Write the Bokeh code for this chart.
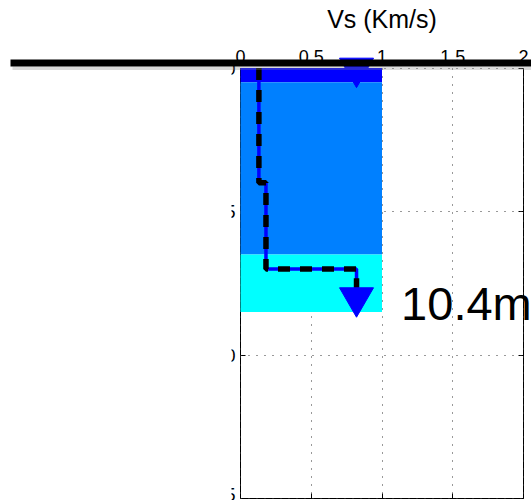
from bokeh.plotting import figure
from bokeh.models import Range1d, FixedTicker, LinearAxis, Label
from bokeh.embed import file_html
from bokeh.resources import INLINE

# ---- data ----
layer_top = [0.0, 0.5, 6.5]          # depth of layer tops (m)
layer_bottom = [0.5, 6.5, 8.5]       # depth of layer bottoms (m)
layer_vs = [1.0, 1.0, 1.0]           # bar extent along Vs axis
layer_colors = ["#0000FF", "#0080FF", "#00FFFF"]

profile_vs = [0.13, 0.13, 0.18, 0.18, 0.82, 0.82]
profile_depth = [0.0, 4.0, 4.0, 7.0, 7.0, 7.8]

marker_vs = [0.82, 0.82]
marker_depth = [0.0, 8.0]

x_ticks = [0, 0.5, 1, 1.5, 2]
x_tick_labels = ["0", "0.5", "1", "1.5", "2"]
y_ticks = [0, 5, 10, 15]
y_tick_labels = ["0", "5", "10", "15"]

x_label = "Vs (Km/s)"
depth_text = "10.4m"
depth_text_vs = 1.135
depth_text_depth = 8.22

FONT = "Liberation Sans"

# box: x 0..2 -> px 240..523 ; depth 0..15 -> px 67.5..498 (canvas 531x500)
PX_X = 141.5
PX_Y = 28.7
X0, Y0 = 240.0, 67.5
W, H = 531, 500
x_rng = Range1d(-X0 / PX_X, (W - X0) / PX_X)
y_rng = Range1d((H - Y0) / PX_Y, -Y0 / PX_Y)

p = figure(width=W, height=H, output_backend="svg", toolbar_location=None,
           x_range=x_rng, y_range=y_rng, x_axis_location="above",
           min_border=0)
p.background_fill_color = "white"
p.border_fill_color = "white"
p.outline_line_color = None

xa = p.xaxis[0]
ya = p.yaxis[0]
xa.fixed_location = 0
xa.bounds = (x_ticks[0], x_ticks[-1])
xa.ticker = FixedTicker(ticks=x_ticks)
xa.major_label_overrides = {t: l for t, l in zip(x_ticks, x_tick_labels)}
ya.fixed_location = 0
ya.bounds = (y_ticks[0], y_ticks[-1])
ya.ticker = FixedTicker(ticks=y_ticks)
ya.major_label_overrides = {t: l for t, l in zip(y_ticks, y_tick_labels)}

ra = LinearAxis(fixed_location=x_ticks[-1], bounds=(y_ticks[0], y_ticks[-1]),
                ticker=FixedTicker(ticks=y_ticks))
ba = LinearAxis(fixed_location=y_ticks[-1], bounds=(x_ticks[0], x_ticks[-1]),
                ticker=FixedTicker(ticks=x_ticks))
p.add_layout(ra, "right")
p.add_layout(ba, "below")

for ax in (xa, ya, ra, ba):
    ax.level = "underlay"
    ax.major_tick_in = 5
    ax.major_tick_out = 0
    ax.minor_tick_line_color = None
    ax.axis_line_color = "black"
    ax.major_tick_line_color = "black"
    ax.major_label_text_font = FONT
    ax.major_label_text_font_size = "18px"
    ax.major_label_text_color = "black"
    ax.major_label_standoff = 5

xa.axis_line_color = None
xa.major_tick_line_color = None
ra.major_label_text_color = None
ba.major_label_text_color = None

xa.axis_label = x_label
xa.axis_label_text_font = FONT
xa.axis_label_text_font_size = "25px"
xa.axis_label_text_font_style = "normal"
xa.axis_label_text_color = "black"
xa.axis_label_standoff = 15

p.xgrid[0].cross_bounds = (y_ticks[0], y_ticks[-1])
p.ygrid[0].cross_bounds = (x_ticks[0], x_ticks[-1])
for g in (p.xgrid[0], p.ygrid[0]):
    g.grid_line_color = "#333333"
    g.grid_line_dash = "1 7"
    g.grid_line_width = 1
    g.grid_line_alpha = 1

# layers
p.quad(left=0, right=layer_vs, top=layer_top, bottom=layer_bottom,
       fill_color=layer_colors, line_color=None)

# Vs profile
p.line(profile_vs, profile_depth, line_color="#0000FF", line_width=3.5)
p.line(profile_vs, profile_depth, line_color="black", line_width=5.5,
       line_dash="12 10")

p.scatter(marker_vs, marker_depth, marker="inverted_triangle", size=34,
          fill_color="#0000FF", line_color="#0000FF")

# white mask over the left part (the reference is cropped there)
p.quad(left=x_rng.start, right=-9 / PX_X, top=-8 / PX_Y, bottom=y_rng.start,
       fill_color="white", line_color=None)
# ground-surface line and its soft shadow
p.quad(left=-228 / PX_X, right=x_rng.end, top=-1.5 / PX_Y, bottom=2 / PX_Y,
       fill_color="#888888", fill_alpha=0.3, line_color=None)
p.quad(left=-230 / PX_X, right=x_rng.end, top=-8.5 / PX_Y, bottom=-1.5 / PX_Y,
       fill_color="black", line_color=None)

p.add_layout(Label(x=depth_text_vs, y=depth_text_depth, text=depth_text,
                   text_font=FONT, text_font_size="47px", text_color="black",
                   text_align="left", text_baseline="alphabetic"))

open("out.html", "w").write(file_html(p, INLINE))
